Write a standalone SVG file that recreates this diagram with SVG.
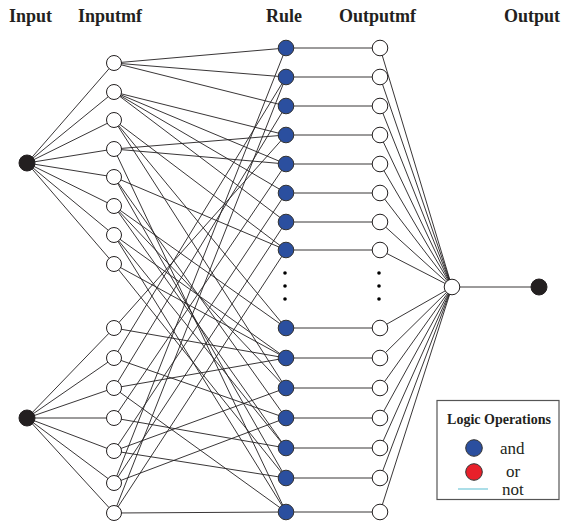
<svg xmlns="http://www.w3.org/2000/svg" width="561" height="525" viewBox="0 0 561 525">
<style>
.hdr{font-family:"Liberation Serif","Times New Roman",serif;font-weight:bold;font-size:18px;fill:#231f20}
.lg{font-family:"Liberation Serif","Times New Roman",serif;fill:#231f20}
.e line{stroke:#231f20;stroke-width:0.9}
.inp{fill:#231f20;stroke:#231f20;stroke-width:1}
.mf{fill:#fff;stroke:#231f20;stroke-width:1}
.rule{fill:#2b4f9f;stroke:#333;stroke-width:1}
.dot{fill:#000}
</style>
<rect width="561" height="525" fill="#fff"/>
<g id="headers">
<text class="hdr" x="9" y="22">Input</text>
<text class="hdr" x="78" y="22">Inputmf</text>
<text class="hdr" x="266" y="22">Rule</text>
<text class="hdr" x="339" y="22">Outputmf</text>
<text class="hdr" x="504" y="22">Output</text>
</g>
<g id="connectors" class="e">
<line x1="27" y1="163" x2="114" y2="63"/><line x1="27" y1="163" x2="114" y2="92"/><line x1="27" y1="163" x2="114" y2="120"/><line x1="27" y1="163" x2="114" y2="149"/>
<line x1="27" y1="163" x2="114" y2="177"/><line x1="27" y1="163" x2="114" y2="206"/><line x1="27" y1="163" x2="114" y2="235"/><line x1="27" y1="163" x2="114" y2="264"/>
<line x1="27" y1="418" x2="114" y2="328"/><line x1="27" y1="418" x2="114" y2="358"/><line x1="27" y1="418" x2="114" y2="388"/><line x1="27" y1="418" x2="114" y2="418"/>
<line x1="27" y1="418" x2="114" y2="451"/><line x1="27" y1="418" x2="114" y2="483"/><line x1="27" y1="418" x2="114" y2="513"/>
<line x1="114" y1="63" x2="286" y2="48"/><line x1="114" y1="63" x2="286" y2="77"/><line x1="114" y1="63" x2="286" y2="106"/>
<line x1="114" y1="92" x2="286" y2="135"/><line x1="114" y1="92" x2="286" y2="164"/><line x1="114" y1="92" x2="286" y2="193"/><line x1="114" y1="92" x2="286" y2="222"/>
<line x1="114" y1="120" x2="286" y2="250"/><line x1="114" y1="120" x2="286" y2="328"/><line x1="114" y1="120" x2="286" y2="388"/>
<line x1="114" y1="149" x2="286" y2="135"/><line x1="114" y1="149" x2="286" y2="164"/><line x1="114" y1="149" x2="286" y2="512"/>
<line x1="114" y1="177" x2="286" y2="250"/><line x1="114" y1="177" x2="286" y2="418"/><line x1="114" y1="177" x2="286" y2="478"/>
<line x1="114" y1="206" x2="286" y2="328"/><line x1="114" y1="206" x2="286" y2="388"/><line x1="114" y1="206" x2="286" y2="448"/>
<line x1="114" y1="235" x2="286" y2="358"/><line x1="114" y1="235" x2="286" y2="448"/><line x1="114" y1="235" x2="286" y2="512"/>
<line x1="114" y1="264" x2="286" y2="358"/><line x1="114" y1="264" x2="286" y2="478"/>
<line x1="114" y1="328" x2="286" y2="135"/><line x1="114" y1="328" x2="286" y2="358"/>
<line x1="114" y1="358" x2="286" y2="77"/><line x1="114" y1="358" x2="286" y2="418"/>
<line x1="114" y1="388" x2="286" y2="106"/><line x1="114" y1="388" x2="286" y2="358"/><line x1="114" y1="388" x2="286" y2="512"/>
<line x1="114" y1="418" x2="286" y2="164"/><line x1="114" y1="418" x2="286" y2="448"/>
<line x1="114" y1="451" x2="286" y2="193"/><line x1="114" y1="451" x2="286" y2="388"/><line x1="114" y1="451" x2="286" y2="478"/>
<line x1="114" y1="483" x2="286" y2="48"/><line x1="114" y1="483" x2="286" y2="222"/><line x1="114" y1="483" x2="286" y2="418"/>
<line x1="114" y1="513" x2="286" y2="77"/><line x1="114" y1="513" x2="286" y2="250"/><line x1="114" y1="513" x2="286" y2="512"/>
<line x1="286" y1="48" x2="380" y2="48"/><line x1="286" y1="77" x2="380" y2="77"/><line x1="286" y1="106" x2="380" y2="106"/><line x1="286" y1="135" x2="380" y2="135"/>
<line x1="286" y1="164" x2="380" y2="164"/><line x1="286" y1="193" x2="380" y2="193"/><line x1="286" y1="222" x2="380" y2="222"/><line x1="286" y1="250" x2="380" y2="250"/>
<line x1="286" y1="328" x2="380" y2="328"/><line x1="286" y1="358" x2="380" y2="358"/><line x1="286" y1="388" x2="380" y2="388"/><line x1="286" y1="418" x2="380" y2="418"/>
<line x1="286" y1="448" x2="380" y2="448"/><line x1="286" y1="478" x2="380" y2="478"/><line x1="286" y1="512" x2="380" y2="512"/>
<line x1="380" y1="48" x2="452" y2="287"/><line x1="380" y1="77" x2="452" y2="287"/><line x1="380" y1="106" x2="452" y2="287"/><line x1="380" y1="135" x2="452" y2="287"/>
<line x1="380" y1="164" x2="452" y2="287"/><line x1="380" y1="193" x2="452" y2="287"/><line x1="380" y1="222" x2="452" y2="287"/><line x1="380" y1="250" x2="452" y2="287"/>
<line x1="380" y1="328" x2="452" y2="287"/><line x1="380" y1="358" x2="452" y2="287"/><line x1="380" y1="388" x2="452" y2="287"/><line x1="380" y1="418" x2="452" y2="287"/>
<line x1="380" y1="448" x2="452" y2="287"/><line x1="380" y1="478" x2="452" y2="287"/><line x1="380" y1="512" x2="452" y2="287"/>
<line x1="452" y1="287" x2="539" y2="287"/>
</g>
<g id="input1"><circle class="inp" cx="27" cy="163" r="8"/></g>
<g id="input2"><circle class="inp" cx="27" cy="418" r="8"/></g>
<g id="inputmf">
<circle class="mf" cx="114" cy="63" r="7.5"/><circle class="mf" cx="114" cy="92" r="7.5"/><circle class="mf" cx="114" cy="120" r="7.5"/><circle class="mf" cx="114" cy="149" r="7.5"/>
<circle class="mf" cx="114" cy="177" r="7.5"/><circle class="mf" cx="114" cy="206" r="7.5"/><circle class="mf" cx="114" cy="235" r="7.5"/><circle class="mf" cx="114" cy="264" r="7.5"/>
<circle class="mf" cx="114" cy="328" r="7.5"/><circle class="mf" cx="114" cy="358" r="7.5"/><circle class="mf" cx="114" cy="388" r="7.5"/><circle class="mf" cx="114" cy="418" r="7.5"/>
<circle class="mf" cx="114" cy="451" r="7.5"/><circle class="mf" cx="114" cy="483" r="7.5"/><circle class="mf" cx="114" cy="513" r="7.5"/>
</g>
<g id="rules">
<circle class="rule" cx="286" cy="48" r="7.8"/><circle class="rule" cx="286" cy="77" r="7.8"/><circle class="rule" cx="286" cy="106" r="7.8"/><circle class="rule" cx="286" cy="135" r="7.8"/>
<circle class="rule" cx="286" cy="164" r="7.8"/><circle class="rule" cx="286" cy="193" r="7.8"/><circle class="rule" cx="286" cy="222" r="7.8"/><circle class="rule" cx="286" cy="250" r="7.8"/>
<circle class="rule" cx="286" cy="328" r="7.8"/><circle class="rule" cx="286" cy="358" r="7.8"/><circle class="rule" cx="286" cy="388" r="7.8"/><circle class="rule" cx="286" cy="418" r="7.8"/>
<circle class="rule" cx="286" cy="448" r="7.8"/><circle class="rule" cx="286" cy="478" r="7.8"/><circle class="rule" cx="286" cy="512" r="7.8"/>
<circle class="dot" cx="285" cy="273" r="1.8"/><circle class="dot" cx="285" cy="286" r="1.8"/><circle class="dot" cx="285" cy="299" r="1.8"/>
</g>
<g id="outputmf">
<circle class="mf" cx="380" cy="48" r="7.8"/><circle class="mf" cx="380" cy="77" r="7.8"/><circle class="mf" cx="380" cy="106" r="7.8"/><circle class="mf" cx="380" cy="135" r="7.8"/>
<circle class="mf" cx="380" cy="164" r="7.8"/><circle class="mf" cx="380" cy="193" r="7.8"/><circle class="mf" cx="380" cy="222" r="7.8"/><circle class="mf" cx="380" cy="250" r="7.8"/>
<circle class="mf" cx="380" cy="328" r="7.8"/><circle class="mf" cx="380" cy="358" r="7.8"/><circle class="mf" cx="380" cy="388" r="7.8"/><circle class="mf" cx="380" cy="418" r="7.8"/>
<circle class="mf" cx="380" cy="448" r="7.8"/><circle class="mf" cx="380" cy="478" r="7.8"/><circle class="mf" cx="380" cy="512" r="7.8"/>
<circle class="dot" cx="379" cy="273" r="1.8"/><circle class="dot" cx="379" cy="286" r="1.8"/><circle class="dot" cx="379" cy="299" r="1.8"/>
</g>
<g id="aggregator"><circle class="mf" cx="452" cy="287" r="7.8"/></g>
<g id="output"><circle class="inp" cx="539" cy="287" r="8"/></g>
<g id="legend">
<rect x="437" y="400.5" width="122" height="99" fill="#fff" stroke="#555" stroke-width="1.2"/>
<text class="lg" x="499" y="424" text-anchor="middle" font-weight="bold" font-size="14">Logic Operations</text>
<circle cx="474" cy="448" r="8.3" fill="#2b4f9f" stroke="#333" stroke-width="1"/>
<text class="lg" x="500" y="453.5" font-size="17">and</text>
<circle cx="474" cy="472" r="8.3" fill="#e8202a" stroke="#333" stroke-width="1"/>
<text class="lg" x="506" y="477" font-size="17">or</text>
<line x1="458" y1="489" x2="488" y2="489" stroke="#8fd3e0" stroke-width="1.5"/>
<text class="lg" x="502" y="495" font-size="17">not</text>
</g>
</svg>
